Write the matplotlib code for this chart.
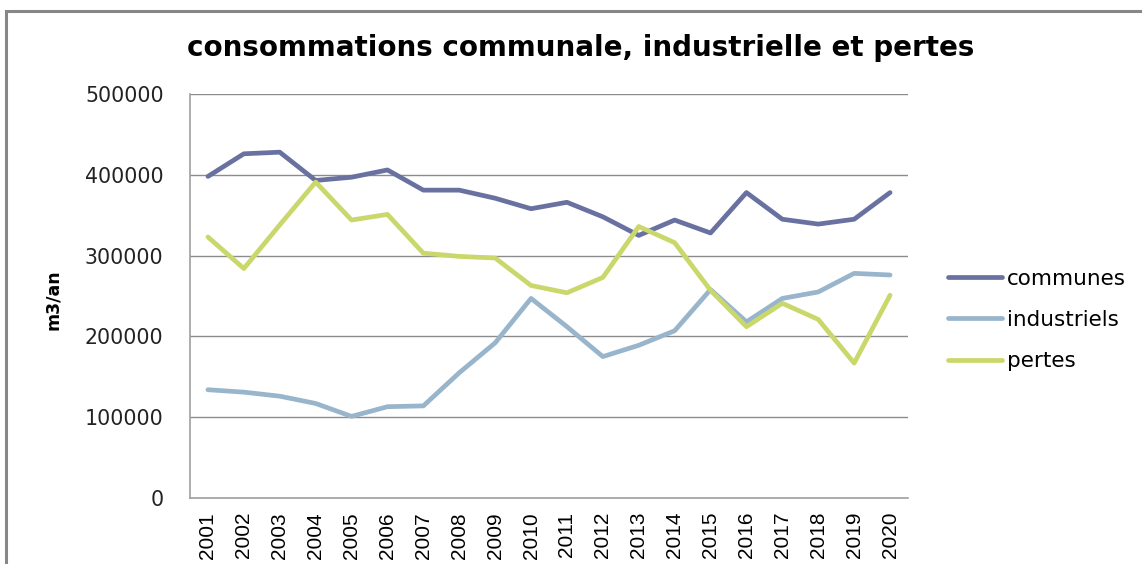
import matplotlib
matplotlib.use("Agg")
import matplotlib.pyplot as plt
from matplotlib.patches import Rectangle

# donnees
annees = [str(a) for a in range(2001, 2021)]
communes = [398000, 426000, 428000, 393000, 397000, 406000, 381000, 381000, 371000, 358000,
            366000, 348000, 325000, 344000, 328000, 378000, 345000, 339000, 345000, 378000]
industriels = [134000, 131000, 126000, 117000, 101000, 113000, 114000, 155000, 192000, 247000,
               212000, 175000, 189000, 207000, 258000, 218000, 247000, 255000, 278000, 276000]
pertes = [323000, 284000, 338000, 391000, 344000, 351000, 303000, 299000, 297000, 263000,
          254000, 273000, 336000, 316000, 257000, 212000, 241000, 221000, 167000, 251000]

series = [("communes", communes, "#6971A1"),
          ("industriels", industriels, "#98B5CB"),
          ("pertes", pertes, "#CAD86B")]

fig = plt.figure(figsize=(11.42, 5.64), dpi=100)
ax = fig.add_axes([190 / 1142, 1 - 498 / 564, 718 / 1142, 404 / 564])

# cadre du graphique (coupe a droite et en bas)
fig.patches.append(Rectangle((6 / 1142, -0.1), 1.2, 1 - 11 / 564 + 0.1, transform=fig.transFigure,
                             fill=False, edgecolor="#878787", linewidth=2.2))

x = list(range(len(annees)))
for nom, vals, couleur in series:
    ax.plot(x, vals, color=couleur, linewidth=3.4, label=nom, solid_capstyle="round")

ax.set_xlim(-0.5, len(annees) - 0.5)
ax.set_ylim(0, 500000)
ax.set_yticks(range(0, 500001, 100000))
ax.set_yticklabels([str(v) for v in range(0, 500001, 100000)], fontsize=14.8, family="DejaVu Sans",
                   color="#222222")
ax.set_xticks(x)
ax.set_xticklabels(annees, rotation=90, fontsize=15, family="Liberation Sans")
ax.tick_params(axis="y", length=0, pad=19)
ax.tick_params(axis="x", length=0, pad=10)
ax.grid(axis="y", color="#8C8C8C", linewidth=1)
ax.set_axisbelow(True)
for s in ["top", "right"]:
    ax.spines[s].set_visible(False)
for s in ["left", "bottom"]:
    ax.spines[s].set_color("#A0A0A0")
    ax.spines[s].set_linewidth(1.2)

ax.set_ylabel("m3/an", fontsize=12.5, fontweight="bold", family="DejaVu Sans")
ax.yaxis.set_label_coords((62 - 190) / 718, 0.49)

fig.text(581 / 1142, 1 - 48 / 564, "consommations communale, industrielle et pertes",
         ha="center", va="center", fontsize=20, fontweight="bold", family="DejaVu Sans")

leg = fig.legend(loc="center left", bbox_to_anchor=(948 / 1142, 1 - 320 / 564), frameon=False,
                 prop={"family": "DejaVu Sans", "size": 15.5}, handlelength=2.5,
                 handletextpad=0.25, labelspacing=0.98, borderpad=0, borderaxespad=0)

fig.savefig("out.png", dpi=100)
